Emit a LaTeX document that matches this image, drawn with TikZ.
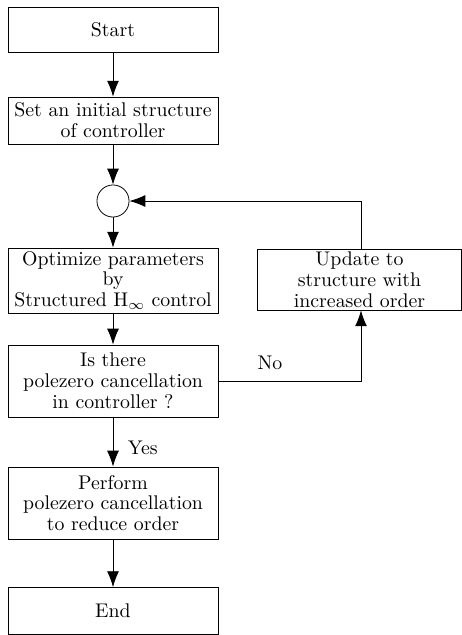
\documentclass[tikz,border=0pt]{standalone}
\usetikzlibrary{arrows.meta}
\begin{document}
\begin{tikzpicture}[x=0.505pt, y=-0.505pt,
    block/.style={rectangle, draw, minimum width=106pt, align=center, inner sep=1pt, font=\fontsize{10}{10.5}\selectfont},
    junction/.style={circle, draw, minimum size=16.2pt, inner sep=0pt},
    flow/.style={-{Latex[length=8pt,width=6pt]}},
    every label/.style={font=\normalsize}
]
\useasboundingbox (0,0) rectangle (462,635);
\node[block, minimum height=22.7pt] (start) at (113,29.5)  {Start};
\node[block, minimum height=23.7pt] (init)  at (113,120.5) {Set an initial structure\\of controller};
\node[junction] (sum) at (113,201) {};
\node[block, minimum height=32.8pt] (opt)   at (113,280.5) {Optimize parameters\\by\\Structured H$_\infty$ control};
\node[block, minimum height=36.4pt] (check) at (113,381)   {Is there\\polezero cancellation\\in controller ?};
\node[block, minimum height=36.4pt] (red)   at (113,503)   {Perform\\polezero cancellation\\to reduce order};
\node[block, minimum height=23.7pt] (stop)  at (113,611)   {End};
\node[block, minimum width=103pt, minimum height=30.8pt] (upd) at (359.5,279.5) {Update to\\structure with\\increased order};
\coordinate (cr) at (361,381);
\coordinate (tr) at (361,201);

\draw[flow] (start) -- (init);
\draw[flow] (init) -- (sum);
\draw[flow] (sum) -- (opt);
\draw[flow] (opt) -- (check);
\draw[flow] (check) -- node[pos=0.62, right, xshift=4pt] {Yes} (red);
\draw[flow] (red) -- (stop);
\draw[flow] (check.east) -- (cr) -- (upd.south -| cr);
\draw[flow] (upd.north -| tr) -- (tr) -- (sum);
\node (no) at (270,363) {No};
\end{tikzpicture}
\end{document}
